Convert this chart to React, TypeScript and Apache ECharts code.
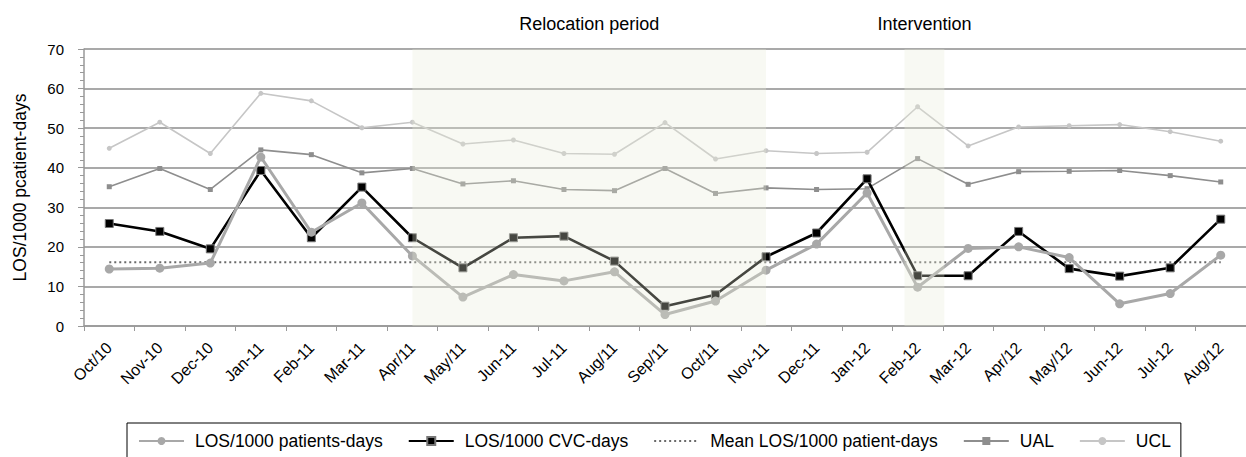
import React, { useEffect, useRef } from "react";
import * as echarts from "echarts";

const categories = [
  "Oct/10", "Nov-10", "Dec-10", "Jan-11", "Feb-11", "Mar-11", "Apr/11", "May/11",
  "Jun-11", "Jul-11", "Aug/11", "Sep/11", "Oct/11", "Nov-11", "Dec-11", "Jan-12",
  "Feb-12", "Mar-12", "Apr/12", "May/12", "Jun-12", "Jul-12", "Aug/12",
];

const losPatientDays = [
  14.4, 14.6, 15.9, 42.7, 23.7, 31.1, 17.7, 7.3, 13.0, 11.4, 13.7, 2.9, 6.3, 14.1,
  20.7, 33.6, 9.8, 19.6, 20.0, 17.3, 5.6, 8.2, 17.9,
];

const losCvcDays = [
  25.9, 23.9, 19.5, 39.3, 22.3, 35.1, 22.3, 14.7, 22.3, 22.7, 16.4, 5.0, 7.9, 17.5,
  23.5, 37.2, 12.7, 12.7, 23.9, 14.5, 12.6, 14.7, 27.0,
];

const ual = [
  35.2, 39.8, 34.5, 44.5, 43.3, 38.7, 39.8, 35.9, 36.7, 34.5, 34.2, 39.8, 33.5, 34.9,
  34.5, 34.7, 42.3, 35.8, 39.0, 39.1, 39.3, 38.0, 36.4,
];

const ucl = [
  44.9, 51.5, 43.6, 58.8, 56.9, 50.1, 51.5, 46.0, 47.0, 43.6, 43.4, 51.4, 42.2, 44.3,
  43.6, 43.9, 55.4, 45.5, 50.3, 50.6, 50.9, 49.1, 46.7,
];

const meanLos = 16.1;

const relocationPeriod = ["Apr/11", "Nov-11"];
const interventionMonth = "Feb-12";
const interventionSpan = [-0.26, 0.53];

const FONT = "'Liberation Sans', Arial, Helvetica, sans-serif";

export default function App() {
  const ref = useRef<HTMLDivElement>(null);

  useEffect(() => {
    document.body.style.margin = "0";
    if (!ref.current) return;
    const chart = echarts.init(ref.current, undefined, { renderer: "svg" });

    const relStart = categories.indexOf(relocationPeriod[0]);
    const relEnd = categories.indexOf(relocationPeriod[1]);
    const intIdx = categories.indexOf(interventionMonth);

    const areaLabel = {
      show: true,
      position: "top",
      distance: 16,
      color: "#000",
      fontSize: 18,
      fontFamily: FONT,
    };

    chart.setOption({
      animation: false,
      backgroundColor: "#fff",
      textStyle: { fontFamily: FONT },
      grid: { left: 84, right: -4, top: 49, bottom: 131, containLabel: false },
      legend: {
        left: 127,
        top: 423,
        padding: [9, 10, 20, 11],
        borderColor: "#000",
        borderWidth: 1,
        itemWidth: 45,
        itemHeight: 10,
        itemGap: 25,
        textStyle: { fontSize: 17.5, color: "#000", fontFamily: FONT, padding: [0, 0, 0, 6] },
        data: [
          "LOS/1000 patients-days",
          "LOS/1000 CVC-days",
          { name: "Mean LOS/1000 patient-days", itemStyle: { opacity: 0 } },
          "UAL",
          "UCL",
        ],
      },
      xAxis: [
        {
          type: "category",
          data: categories,
          boundaryGap: true,
          axisLine: { lineStyle: { color: "#999", width: 1.5 } },
          axisTick: { show: true, length: 5, lineStyle: { color: "#999", width: 1 } },
          axisLabel: { rotate: 45, margin: 19, fontSize: 16, color: "#000", fontFamily: FONT, interval: 0 },
          splitLine: { show: false },
        },
        {
          type: "value",
          show: false,
          min: -0.5,
          max: categories.length - 0.5,
        },
      ],
      yAxis: {
        type: "value",
        min: 0,
        max: 70,
        interval: 10,
        name: "LOS/1000 pcatient-days",
        nameLocation: "middle",
        nameGap: 55,
        nameTextStyle: { fontSize: 17.5, color: "#000", fontFamily: FONT },
        axisLine: { show: true, onZero: false, lineStyle: { color: "#999", width: 1.5 } },
        axisTick: { show: true, length: 6, lineStyle: { color: "#999", width: 1 } },
        minorTick: { show: true, splitNumber: 5, length: 4, lineStyle: { color: "#999", width: 1 } },
        axisLabel: { margin: 20, fontSize: 15, color: "#000", fontFamily: FONT },
        splitLine: { show: true, lineStyle: { color: "#8c8c8c", width: 1.5 } },
      },
      series: [
        {
          name: "UCL",
          type: "line",
          data: ucl,
          symbol: "circle",
          symbolSize: 5,
          lineStyle: { color: "#c6c6c6", width: 1.6 },
          itemStyle: { color: "#c6c6c6" },
          z: 2,
        },
        {
          name: "UAL",
          type: "line",
          data: ual,
          symbol: "rect",
          symbolSize: 5,
          lineStyle: { color: "#8e8e8e", width: 1.6 },
          itemStyle: { color: "#8e8e8e" },
          z: 2,
        },
        {
          name: "Mean LOS/1000 patient-days",
          type: "line",
          data: categories.map(() => meanLos),
          symbol: "none",
          lineStyle: { color: "#6a6a6a", width: 2, type: [2, 3] },
          itemStyle: { color: "#6a6a6a" },
          z: 3,
        },
        {
          name: "LOS/1000 CVC-days",
          type: "line",
          data: losCvcDays,
          symbol: "rect",
          symbolSize: 8,
          lineStyle: { color: "#000", width: 2.6 },
          itemStyle: { color: "#000", borderColor: "#777", borderWidth: 1 },
          z: 3,
        },
        {
          name: "LOS/1000 patients-days",
          type: "line",
          data: losPatientDays,
          symbol: "circle",
          symbolSize: 9,
          lineStyle: { color: "#a8a8a8", width: 3 },
          itemStyle: { color: "#a8a8a8" },
          z: 4,
        },
        {
          name: "periods",
          type: "line",
          xAxisIndex: 1,
          data: [],
          z: 10,
          markArea: {
            silent: true,
            z: 10,
            itemStyle: { color: "rgba(232,236,215,0.3)" },
            label: areaLabel,
            data: [
              [
                { name: "Relocation period", xAxis: relStart },
                { xAxis: relEnd },
              ],
              [
                { name: "Intervention", xAxis: intIdx + interventionSpan[0] },
                { xAxis: intIdx + interventionSpan[1] },
              ],
            ],
          },
        },
      ],
    });

    return () => chart.dispose();
  }, []);

  return (
    <div
      ref={ref}
      style={{ position: "absolute", left: 0, top: 0, width: 1246, height: 457 }}
    />
  );
}
